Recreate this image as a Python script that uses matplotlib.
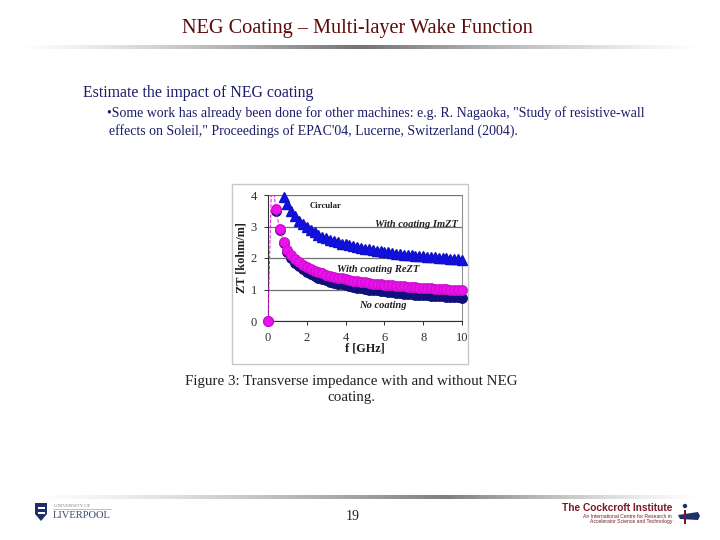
import numpy as np
import matplotlib
matplotlib.use("Agg")
import matplotlib.pyplot as plt
from matplotlib.patches import Rectangle, Polygon, Circle

# frequency grid of the figure (GHz)
freq = [0.0, 0.2, 0.4, 0.6, 0.8, 1.0, 1.2, 1.4, 1.6, 1.8, 2.0, 2.2, 2.4, 2.6, 2.8,
        3.0, 3.2, 3.4, 3.6, 3.8, 4.0, 4.2, 4.4, 4.6, 4.8, 5.0, 5.2, 5.4, 5.6, 5.8,
        6.0, 6.2, 6.4, 6.6, 6.8, 7.0, 7.2, 7.4, 7.6, 7.8, 8.0, 8.2, 8.4, 8.6, 8.8,
        9.0, 9.2, 9.4, 9.6, 9.8, 10.0]

# ZT [kohm/m] (nan / >4 = off the top of the scale)
no_coating = [0.0, np.nan, 3.50, 2.88, 2.48, 2.18, 2.00, 1.85, 1.74, 1.64, 1.56,
              1.50, 1.44, 1.38, 1.34, 1.29, 1.25, 1.22, 1.19, 1.16, 1.13, 1.10,
              1.08, 1.06, 1.04, 1.02, 1.00, 0.98, 0.97, 0.95, 0.94, 0.92, 0.91,
              0.90, 0.89, 0.87, 0.86, 0.85, 0.84, 0.83, 0.82, 0.81, 0.80, 0.80,
              0.79, 0.78, 0.77, 0.77, 0.76, 0.75, 0.74]
re_zt = [0.0, 4.8, 3.55, 2.92, 2.52, 2.26, 2.10, 1.97, 1.87, 1.78, 1.71,
         1.65, 1.60, 1.55, 1.51, 1.47, 1.44, 1.40, 1.38, 1.35, 1.33, 1.30,
         1.28, 1.26, 1.24, 1.23, 1.21, 1.19, 1.18, 1.17, 1.15, 1.14, 1.13,
         1.12, 1.11, 1.10, 1.09, 1.08, 1.07, 1.06, 1.05, 1.04, 1.04, 1.03,
         1.02, 1.01, 1.01, 1.00, 0.99, 0.99, 0.98]
im_zt = [0.0, np.nan, np.nan, np.nan, 3.95, 3.73, 3.50, 3.33, 3.19, 3.07, 2.97,
         2.88, 2.81, 2.74, 2.68, 2.63, 2.58, 2.54, 2.50, 2.46, 2.43, 2.40,
         2.37, 2.34, 2.32, 2.29, 2.27, 2.25, 2.23, 2.21, 2.19, 2.18, 2.16,
         2.14, 2.13, 2.11, 2.10, 2.09, 2.07, 2.06, 2.05, 2.04, 2.03, 2.02,
         2.01, 2.00, 1.99, 1.98, 1.97, 1.96, 1.95]

x_ticks = [0, 2, 4, 6, 8, 10]
y_ticks = [0, 1, 2, 3, 4]
y_max = 4

W, H = 720, 540
SERIF = "Liberation Serif"
NAVY_TEXT = "#1c1c6c"

fig = plt.figure(figsize=(W / 100, H / 100), dpi=100)
fig.patch.set_facecolor("white")

# slide background in pixel coordinates
bg = fig.add_axes([0, 0, 1, 1])
bg.set_xlim(0, W)
bg.set_ylim(H, 0)
bg.axis("off")


def gradient_line(x0, x1, y, h, peak_at=0.5, dark=0.45):
    n = 400
    t = np.linspace(0, 1, n)
    d = np.where(t < peak_at, t / peak_at, (1 - t) / (1 - peak_at))
    g = 1 - (1 - dark) * d ** 1.3
    img = np.repeat(g[None, :], 2, axis=0)
    bg.imshow(img, cmap="gray", vmin=0, vmax=1, extent=[x0, x1, y + h, y],
              aspect="auto", interpolation="bilinear")


gradient_line(10, 710, 45.5, 3.5, peak_at=0.5, dark=0.45)
gradient_line(25, 705, 495.5, 3.5, peak_at=0.62, dark=0.5)
bg.set_xlim(0, W)
bg.set_ylim(H, 0)

bg.text(357, 29, "NEG Coating \u2013 Multi-layer Wake Function", family=SERIF,
        fontsize=14.6, color="#5c0a0a", ha="center", va="center")
bg.text(83, 93, "Estimate the impact of NEG coating", family=SERIF,
        fontsize=11.4, color=NAVY_TEXT, ha="left", va="center")
bg.text(107, 113, "\u2022Some work has already been done for other machines: e.g. R. Nagaoka, "
        "\"Study of resistive-wall", family=SERIF, fontsize=10, color=NAVY_TEXT,
        ha="left", va="center")
bg.text(109, 131, "effects on Soleil,\" Proceedings of EPAC'04, Lucerne, Switzerland (2004).",
        family=SERIF, fontsize=10, color=NAVY_TEXT, ha="left", va="center")

# chart frame and caption
bg.add_patch(Rectangle((232, 184), 236, 180, fill=False, ec="#c8c8c8", lw=1))
bg.text(351, 382, "Figure 3: Transverse impedance with and without NEG", family=SERIF,
        fontsize=10.8, color="#202020", ha="center", va="center")
cap = bg.text(351, 398, "coating.", family=SERIF, fontsize=10.8, color="#202020",
              ha="center", va="center")
clip = Rectangle((170, 170), 370, 233, transform=bg.transData, fill=False)
cap.set_clip_path(clip)

bg.text(353, 516, "19", family=SERIF, fontsize=10, color="#202020",
        ha="center", va="center")

# Liverpool logo
bg.add_patch(Polygon([[35, 503], [47, 503], [47, 514], [41, 521], [35, 514]],
                     closed=True, fc="#1f2f6a", ec="none"))
for yy in (507, 512):
    bg.add_patch(Rectangle((37.5, yy), 7, 1.6, fc="white", ec="none"))
bg.text(54, 506, "UNIVERSITY OF", family=SERIF, fontsize=3.5, color="#7a8296",
        ha="left", va="center")
bg.plot([53, 111], [509, 509], color="#a0a6b4", lw=0.5)
bg.text(53, 515, "LIVERPOOL", family=SERIF, fontsize=7.6, color="#3c4a6e",
        ha="left", va="center")

# Cockcroft Institute logo
bg.text(672, 508, "The Cockcroft Institute", family="Liberation Sans",
        fontweight="bold", fontsize=7.3, color="#7a1828", ha="right", va="center")
bg.text(672, 516, "An International Centre for Research in", family="Liberation Sans",
        fontsize=3.6, color="#7a1828", ha="right", va="center")
bg.text(672, 522, "Accelerator Science and Technology", family="Liberation Sans",
        fontsize=3.6, color="#7a1828", ha="right", va="center")
bg.add_patch(Circle((685, 506), 2.2, fc="#1f2f6a", ec="none"))
bg.add_patch(Rectangle((683.8, 510), 2.6, 14, fc="#8a1020", ec="none"))
bg.add_patch(Polygon([[678, 515], [698, 512], [700, 516], [698, 520], [680, 519]],
                     closed=True, fc="#1f2f6a", ec="none"))
bg.add_patch(Rectangle((683.8, 514), 2.6, 4, fc="#8a1020", ec="none"))

# the impedance chart
x0, x1 = 268, 462
yb, yt = 321, 195
ax = fig.add_axes([x0 / W, 1 - yb / H, (x1 - x0) / W, (yb - yt) / H])
ax.set_facecolor("white")


def on_scale(vals):
    v = np.array(vals, dtype=float)
    return np.where(v > y_max, np.nan, v)


ax.plot(freq, on_scale(no_coating), ls="none", marker="o", ms=6.8, color="#10107a",
        mec="#10107a", clip_on=False, zorder=3)
ax.plot(freq, re_zt, ls="--", lw=0.7, color="#ee10ee", clip_on=True, zorder=4)
ax.plot(freq, on_scale(re_zt), ls="none", marker="o", ms=6.8, color="#ee10ee",
        mec="#d010d0", clip_on=False, zorder=4)
ax.plot(freq[1:], on_scale(im_zt)[1:], ls="none", marker="^", ms=7.6, color="#1010ee",
        mec="#1010c0", clip_on=False, zorder=5)

ax.set_xlim(0, 10)
ax.set_ylim(0, y_max)
ax.set_xticks(x_ticks)
ax.set_yticks(y_ticks)
ax.grid(axis="y", color="#707070", lw=0.9, zorder=0)
ax.set_axisbelow(True)
ax.spines["top"].set_visible(False)
ax.spines["right"].set_color("#909090")
ax.spines["left"].set_color("#303030")
ax.spines["bottom"].set_color("#303030")
ax.tick_params(axis="both", direction="out", length=3, width=0.7, color="#303030",
               labelsize=9, labelcolor="#303030", pad=5)
for lab in ax.get_xticklabels() + ax.get_yticklabels():
    lab.set_family(SERIF)

ax.set_ylabel("ZT [kohm/m]", family=SERIF, fontweight="bold", fontsize=8.8,
              color="#202020", labelpad=2)
ax.set_xlabel("f [GHz]", family=SERIF, fontweight="bold", fontsize=8.8,
              color="#202020", labelpad=-1)

ax.text(2.15, 3.65, "Circular", family=SERIF, fontweight="bold", fontsize=6.3,
        color="#202020", ha="left", va="center", zorder=6)
ax.text(9.8, 3.05, "With coating ImZT", family=SERIF, fontweight="bold",
        style="italic", fontsize=7.6, color="#202020", ha="right", va="center", zorder=6)
ax.text(3.55, 1.62, "With coating ReZT", family=SERIF, fontweight="bold",
        style="italic", fontsize=7.6, color="#202020", ha="left", va="center", zorder=6)
ax.text(4.7, 0.5, "No coating", family=SERIF, fontweight="bold",
        style="italic", fontsize=7.6, color="#202020", ha="left", va="center", zorder=6)

fig.savefig("out.png", dpi=100, facecolor="white")
